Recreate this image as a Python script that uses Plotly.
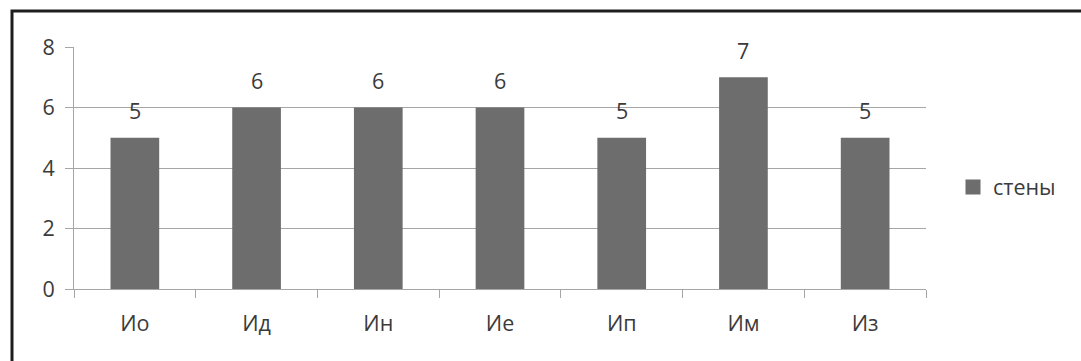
import plotly.graph_objects as go

categories = ["Ио", "Ид", "Ин", "Ие", "Ип", "Им", "Из"]
walls = [5, 6, 6, 6, 5, 7, 5]
series_name = "стены"
y_ticks = [0, 2, 4, 6, 8]

W, H = 1081, 361
L, R, T, B = 74, 155, 47, 72
pw, ph = W - L - R, H - T - B

font_family = "Open Sans, Noto Sans, sans-serif"
text_color = "#3b3b3b"
bar_color = "#6d6d6e"
grid_color = "#a6a6a6"
fs = 21.5

fig = go.Figure()
fig.add_trace(go.Bar(
    x=categories, y=walls, name=series_name,
    marker=dict(color=bar_color, line=dict(width=0)),
    showlegend=False, legendgroup="walls",
))
# legend entry with a larger square swatch
fig.add_trace(go.Scatter(
    x=[None], y=[None], mode="markers", name=series_name,
    marker=dict(symbol="square", size=15, color=bar_color),
    showlegend=True, legendgroup="walls",
))

# value labels above each bar
for c, v in zip(categories, walls):
    fig.add_annotation(x=c, y=v, text=str(v), showarrow=False,
                       yanchor="middle", yshift=27,
                       font=dict(size=fs, color=text_color, family=font_family))


def px_to_paper_x(px):
    return (px - L) / pw


def px_to_paper_y(py):
    return (H - B - py) / ph


# outer frame around the chart
fig.add_shape(type="rect", xref="paper", yref="paper",
              x0=px_to_paper_x(12), x1=px_to_paper_x(1100),
              y0=px_to_paper_y(380), y1=px_to_paper_y(11),
              line=dict(color="#1e1e1e", width=3), fillcolor="rgba(0,0,0,0)",
              layer="above")

fig.update_layout(
    width=W, height=H,
    margin=dict(l=L, r=R, t=T, b=B, pad=0),
    paper_bgcolor="white", plot_bgcolor="white",
    bargap=0.6,
    font=dict(family=font_family, size=fs, color=text_color),
    showlegend=True,
    legend=dict(x=px_to_paper_x(953), y=px_to_paper_y(187), xanchor="left", yanchor="middle",
                font=dict(size=fs, color=text_color), itemwidth=30,
                bgcolor="rgba(0,0,0,0)"),
    xaxis=dict(
        type="category", tickson="boundaries", ticks="outside", ticklen=8,
        tickcolor=grid_color, tickwidth=1,
        showline=True, linecolor=grid_color, linewidth=1,
        showgrid=False, ticklabelstandoff=15,
        tickfont=dict(size=fs, color=text_color),
    ),
    yaxis=dict(
        range=[0, 8], tickvals=y_ticks, ticks="outside", ticklen=8,
        tickcolor=grid_color, tickwidth=1,
        showline=True, linecolor=grid_color, linewidth=1,
        showgrid=True, gridcolor=grid_color, gridwidth=1,
        zeroline=False, ticklabelstandoff=6,
        tickfont=dict(size=fs, color=text_color),
    ),
)

fig.write_html("out.html")
